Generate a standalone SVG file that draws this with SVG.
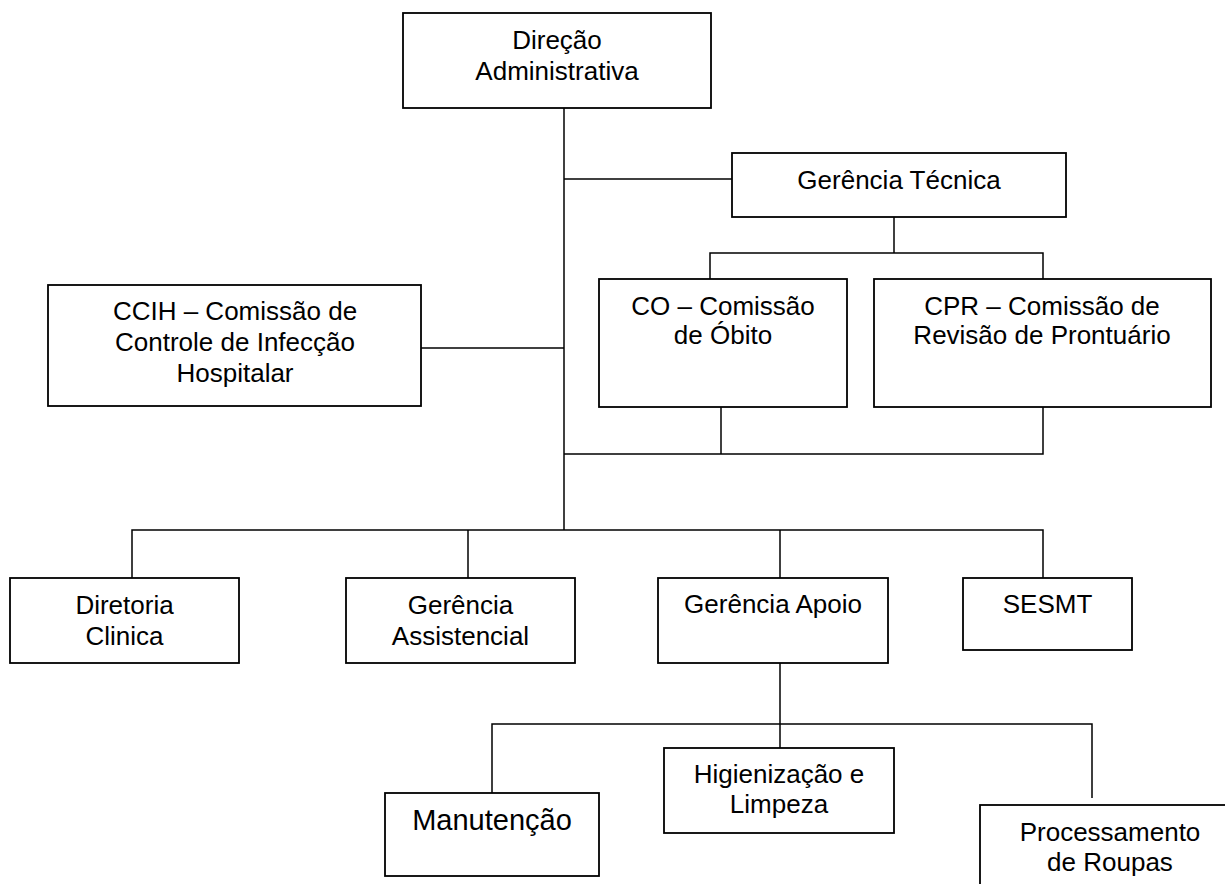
<svg xmlns="http://www.w3.org/2000/svg" width="1225" height="884" viewBox="0 0 1225 884">
  <style>
    .box { fill: #ffffff; stroke: #000000; stroke-width: 1.8; }
    .link { fill: none; stroke: #000000; stroke-width: 1.5; }
    .lbl { font-family: "Liberation Sans", Arial, sans-serif; font-size: 26px; fill: #000000; text-anchor: middle; }
    .big { font-size: 29px; }
  </style>
  <rect width="1225" height="884" fill="#ffffff"/>

  <!-- connectors -->
  <g id="connectors" class="link">
    <!-- trunk from the top box -->
    <path d="M564 108 V530"/>
    <!-- technical management branch -->
    <path d="M564 179 H732"/>
    <path d="M894 217 V253"/>
    <path d="M710 279 V253 H1043 V279"/>
    <!-- commissions back to the trunk -->
    <path d="M721 407 V454"/>
    <path d="M1043 407 V454 H564"/>
    <!-- infection control committee -->
    <path d="M421 348 H564"/>
    <!-- lower row -->
    <path d="M132 578 V530 H1043 V578"/>
    <path d="M468 530 V578"/>
    <path d="M780 530 V578"/>
    <!-- support services -->
    <path d="M780 663 V748"/>
    <path d="M492 797 V724 H1092 V798"/>
  </g>

  <g id="direcao-administrativa">
    <rect class="box" x="403" y="13" width="308" height="95"/>
    <text class="lbl" x="557" y="49">Direção</text>
    <text class="lbl" x="557" y="80">Administrativa</text>
  </g>

  <g id="gerencia-tecnica">
    <rect class="box" x="732" y="153" width="334" height="64"/>
    <text class="lbl" x="899" y="189">Gerência Técnica</text>
  </g>

  <g id="comissao-obito">
    <rect class="box" x="599" y="279" width="248" height="128"/>
    <text class="lbl" x="723" y="315">CO – Comissão</text>
    <text class="lbl" x="723" y="344">de Óbito</text>
  </g>

  <g id="comissao-prontuario">
    <rect class="box" x="874" y="279" width="337" height="128"/>
    <text class="lbl" x="1042" y="315">CPR – Comissão de</text>
    <text class="lbl" x="1042" y="344">Revisão de Prontuário</text>
  </g>

  <g id="ccih">
    <rect class="box" x="48" y="285" width="373" height="121"/>
    <text class="lbl" x="235" y="320">CCIH – Comissão de</text>
    <text class="lbl" x="235" y="351">Controle de Infecção</text>
    <text class="lbl" x="235" y="382">Hospitalar</text>
  </g>

  <g id="diretoria-clinica">
    <rect class="box" x="10" y="578" width="229" height="85"/>
    <text class="lbl" x="124.5" y="614">Diretoria</text>
    <text class="lbl" x="124.5" y="645">Clinica</text>
  </g>

  <g id="gerencia-assistencial">
    <rect class="box" x="346" y="578" width="229" height="85"/>
    <text class="lbl" x="460.5" y="614">Gerência</text>
    <text class="lbl" x="460.5" y="645">Assistencial</text>
  </g>

  <g id="gerencia-apoio">
    <rect class="box" x="658" y="578" width="230" height="85"/>
    <text class="lbl" x="773" y="613">Gerência Apoio</text>
  </g>

  <g id="sesmt">
    <rect class="box" x="963" y="578" width="169" height="72"/>
    <text class="lbl" x="1047.5" y="613">SESMT</text>
  </g>

  <g id="manutencao">
    <rect class="box" x="385" y="793" width="214" height="83"/>
    <text class="lbl big" x="492" y="830">Manutenção</text>
  </g>

  <g id="higienizacao-limpeza">
    <rect class="box" x="664" y="748" width="230" height="85"/>
    <text class="lbl" x="779" y="783">Higienização e</text>
    <text class="lbl" x="779" y="813">Limpeza</text>
  </g>

  <g id="processamento-roupas">
    <rect class="box" x="980" y="805" width="260" height="100"/>
    <text class="lbl" x="1110" y="841">Processamento</text>
    <text class="lbl" x="1110" y="871">de Roupas</text>
  </g>
</svg>
